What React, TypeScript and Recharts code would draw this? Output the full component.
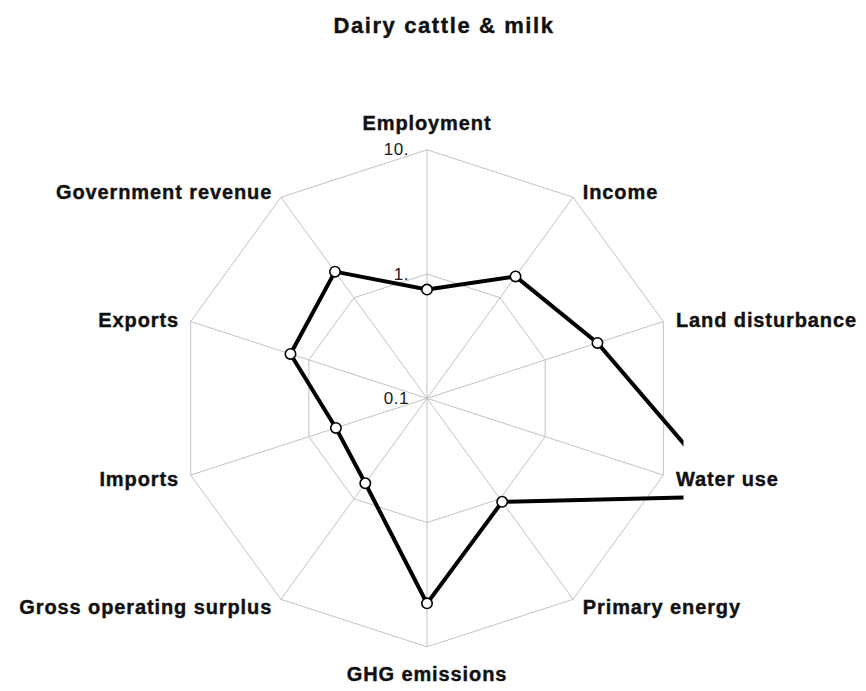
import React from "react";
import {
  PolarAngleAxis,
  PolarGrid,
  PolarRadiusAxis,
  Radar,
  RadarChart,
} from "recharts";

// Axes, clockwise from the top
const categories = [
  "Employment",
  "Income",
  "Land disturbance",
  "Water use",
  "Primary energy",
  "GHG emissions",
  "Gross operating surplus",
  "Imports",
  "Exports",
  "Government revenue",
];

const values = [0.75, 1.63, 2.77, 36, 1.07, 4.47, 0.7, 0.59, 1.43, 1.82];

const radiusTicks = [0.1, 1, 10];
const radiusTickLabels = ["0.1", "1.", "10."];

const data = categories.map((name, i) => ({ name, value: values[i] }));

const labelFont = "'Liberation Sans', Arial, Helvetica, sans-serif";

const renderAngleTick = (props: any) => {
  const { x, y, textAnchor, payload } = props;
  let dx = 0;
  let dy = 8;
  if (textAnchor === "start") dx = 5;
  if (textAnchor === "end") dx = -4;
  if (textAnchor === "middle") dy = y < 398 ? -12 : 26;
  return (
    <text
      x={x + dx}
      y={y + dy}
      textAnchor={textAnchor}
      fontFamily={labelFont}
      fontWeight="bold"
      fontSize={20}
      letterSpacing={0.9}
      fill="#111"
      stroke="#111"
      strokeWidth={0.4}
    >
      {payload.value}
    </text>
  );
};

const renderRadiusTick = (props: any) => {
  const { x, y, payload } = props;
  const idx = radiusTicks.indexOf(payload.value);
  const label = idx >= 0 ? radiusTickLabels[idx] : String(payload.value);
  return (
    <text
      x={x - 18}
      y={y}
      textAnchor="end"
      dominantBaseline="central"
      fontFamily={labelFont}
      fontSize={17}
      letterSpacing={0.5}
      fill="#1a1a1a"
    >
      {label}
    </text>
  );
};

// line + white markers, clipped at the right edge of the plot box like the original
const renderRadarShape = (props: any) => {
  const points: { x: number; y: number }[] = props.points || [];
  const path = points.map((p) => `${p.x},${p.y}`).join(" ");
  return (
    <g>
      <defs>
        <clipPath id="radar-clip">
          <rect x={0} y={0} width={683.5} height={691} />
        </clipPath>
      </defs>
      <g clipPath="url(#radar-clip)">
        <polygon
          points={path}
          fill="none"
          stroke="#000"
          strokeWidth={4}
          strokeLinejoin="miter"
        />
        {points.map((p, i) => (
          <circle key={i} cx={p.x} cy={p.y} r={5.2} fill="#fff" stroke="#000" strokeWidth={1.6} />
        ))}
      </g>
    </g>
  );
};

export default function App() {
  return (
    <div style={{ position: "absolute", left: 0, top: 0, width: 866, height: 691, background: "#fff" }}>
      <div
        style={{
          position: "absolute",
          left: 0,
          width: 888,
          top: 13,
          textAlign: "center",
          fontFamily: labelFont,
          fontWeight: "bold",
          fontSize: 22,
          letterSpacing: 1.6,
          color: "#111",
          WebkitTextStroke: "0.4px #111",
        }}
      >
        Dairy cattle &amp; milk
      </div>
      <RadarChart
        width={866}
        height={691}
        data={data}
        cx={427}
        cy={398.3}
        outerRadius={248.5}
        margin={{ top: 0, right: 0, bottom: 0, left: 0 }}
      >
        <PolarGrid gridType="polygon" polarRadius={[124.25, 248.5]} stroke="#c2c2c2" strokeWidth={1} />
        <PolarAngleAxis dataKey="name" tickLine={false} axisLine={false} tick={renderAngleTick} />
        <PolarRadiusAxis
          angle={90}
          scale="log"
          domain={[0.1, 10]}
          allowDataOverflow
          ticks={radiusTicks}
          axisLine={false}
          tickLine={false}
          tick={renderRadiusTick}
        />
        <Radar
          dataKey="value"
          isAnimationActive={false}
          dot={false}
          shape={renderRadarShape}
        />
      </RadarChart>
    </div>
  );
}
